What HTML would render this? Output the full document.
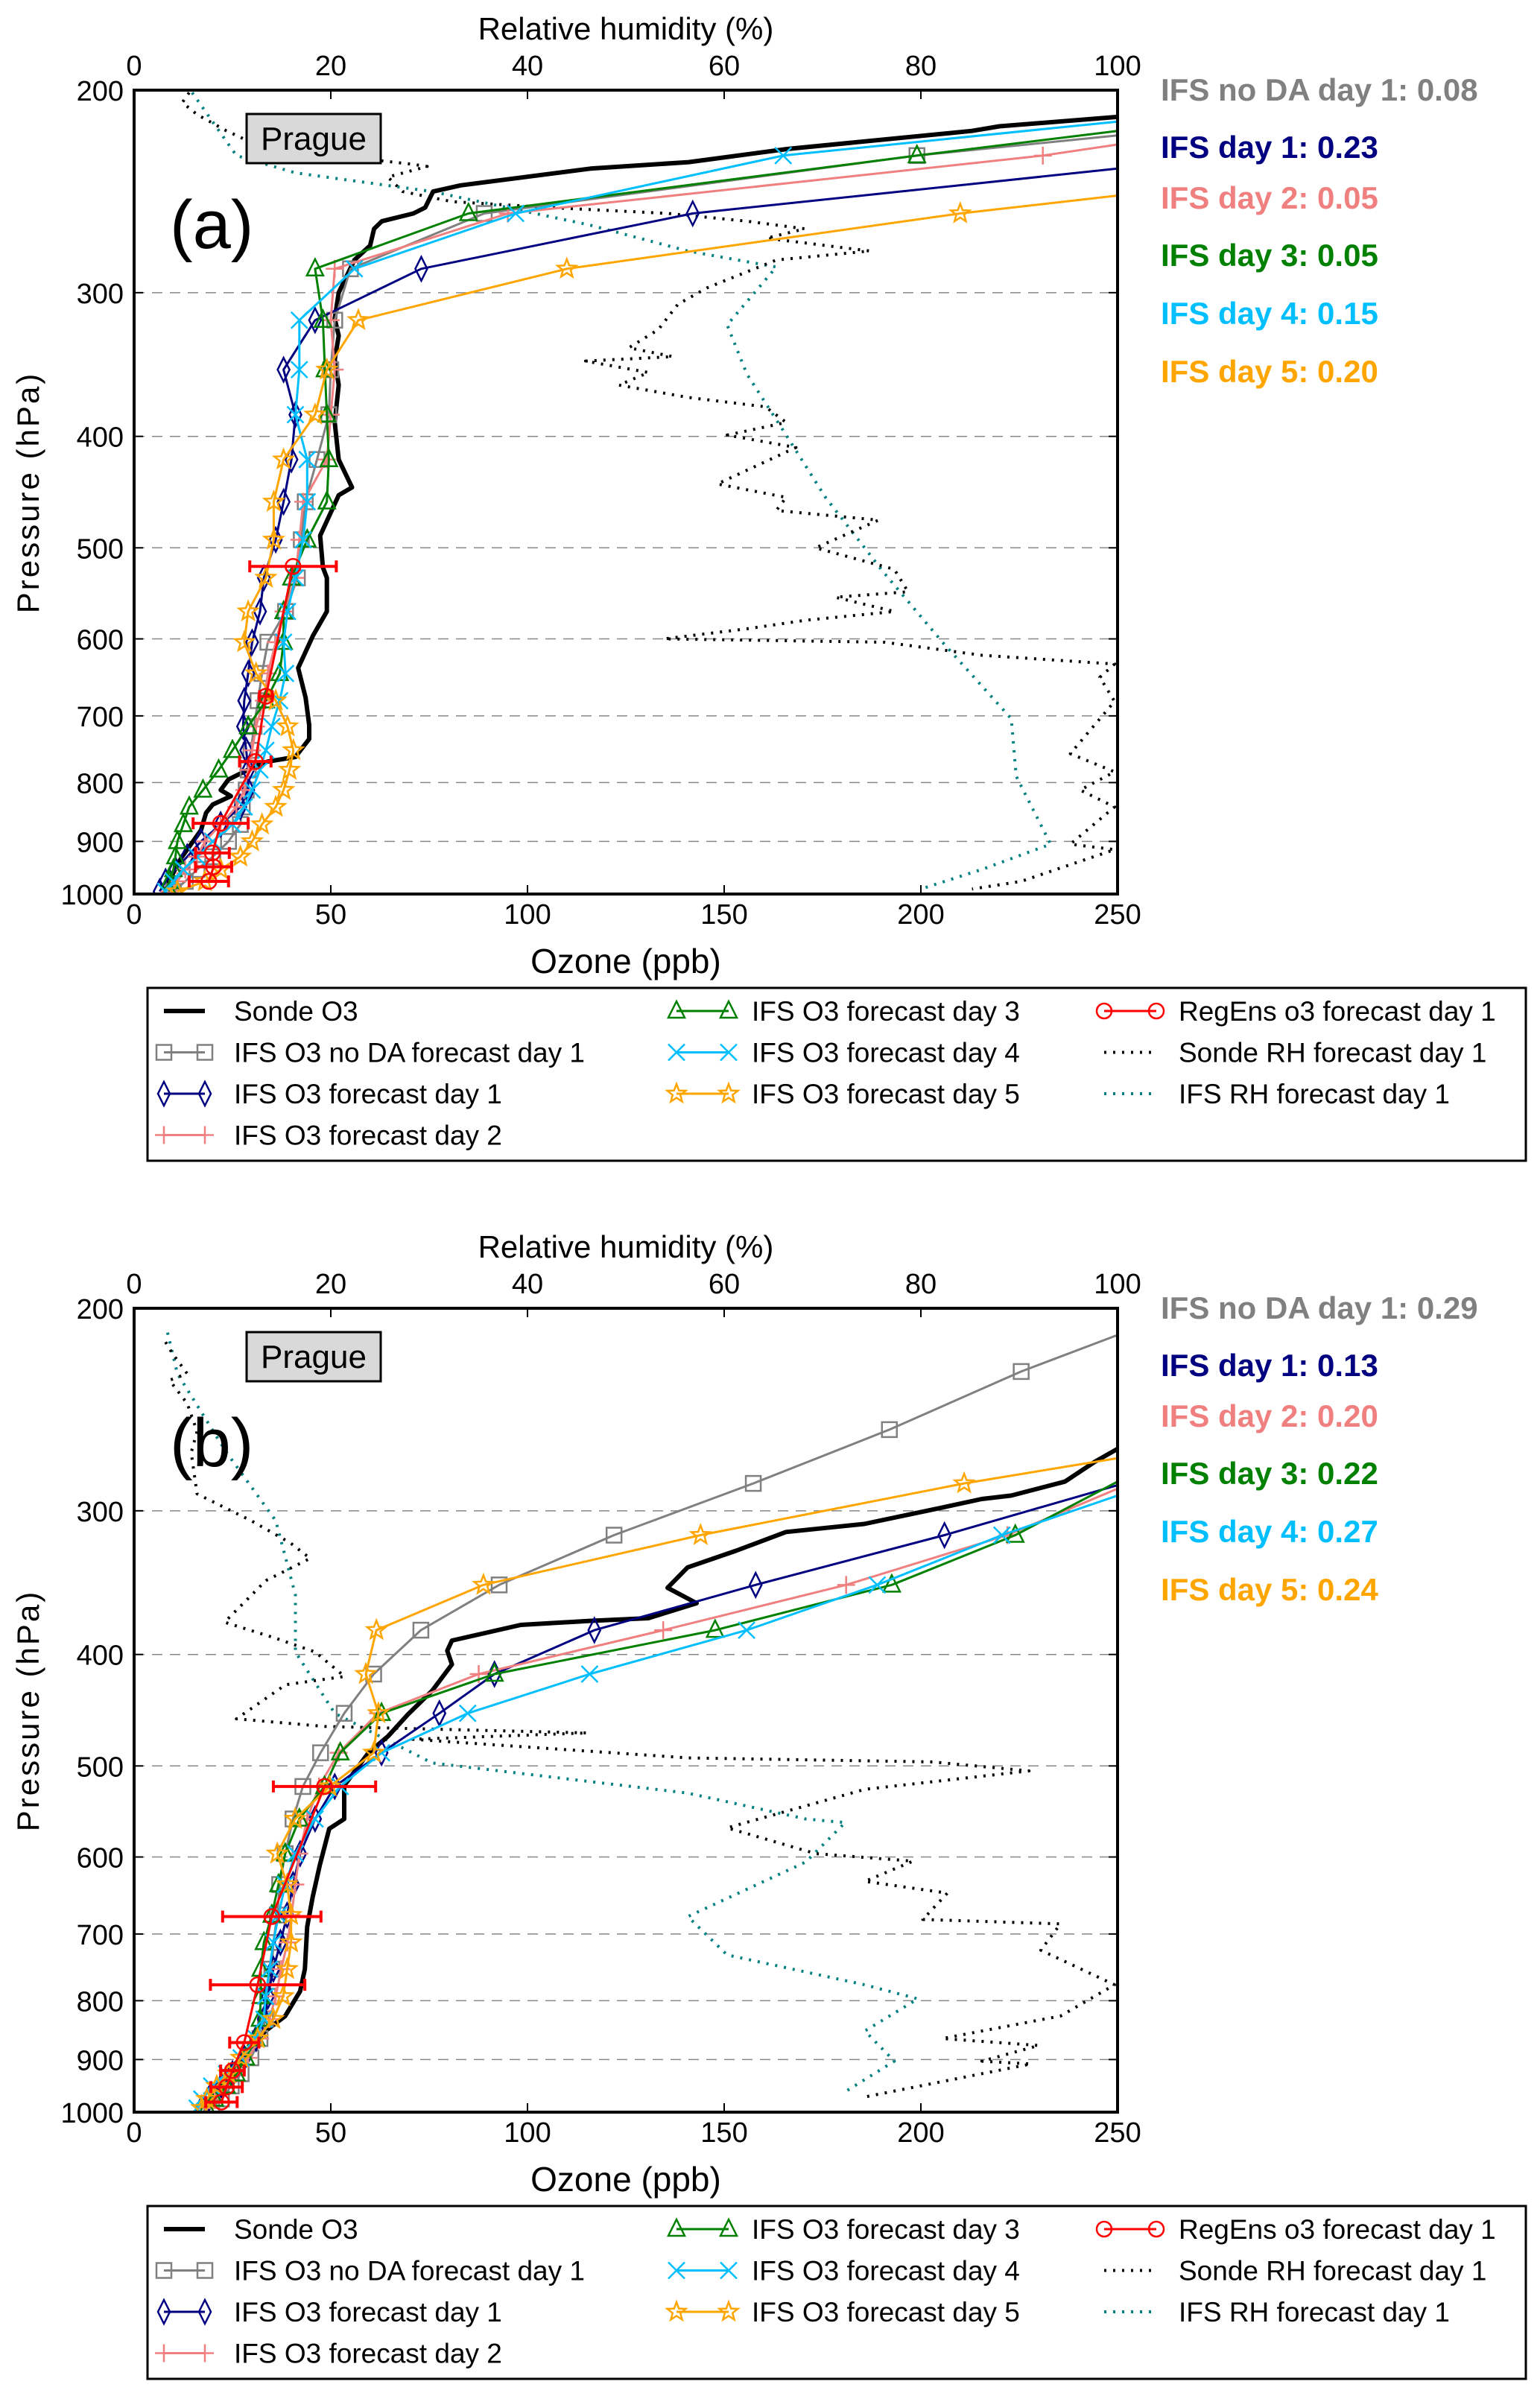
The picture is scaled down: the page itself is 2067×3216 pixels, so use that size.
<!DOCTYPE html>
<html><head><meta charset="utf-8">
<style>
html,body{margin:0;padding:0;background:#fff;}
svg{display:block;}
text{font-family:"Liberation Sans","DejaVu Sans",sans-serif;}
</style></head>
<body>
<svg id="fig" xmlns="http://www.w3.org/2000/svg" width="2067" height="3216" viewBox="0 0 2067 3216"></svg>
<script>
// ---------- Panel (a) data ----------
const A_LEVELS=[256,286,317,350,383,419,456,492,531,568,604,643,679,715,750,780,812,840,870,900,928,952,975,995];
const A_NODA_P=[219,228].concat(A_LEVELS);
const A_NODA=[250,199,89,55,51,50,49.5,46.5,43.5,42.5,41.5,38.5,34,32.5,31.5,30.5,29.7,29,28.5,27.5,27,24,20,16,13,10];
const A_DAY1_P=[234].concat(A_LEVELS);
const A_DAY1=[250,142,73,46,38,41,40,38,36,33,32,30,29,28,27.7,28.5,29,29,27,22,17,13.5,10.5,8,6.5];
const A_DAY2_P=[223,228].concat(A_LEVELS);
const A_DAY2=[250,231,95,51,50,51,50,49,43,42,41,38,36,34,33,31,30,29,28,26,22,18,16,13,11,9];
const A_DAY3_P=[217,228].concat(A_LEVELS);
const A_DAY3=[250,199,85,46,48,48.5,49,49.5,49,44,40,38,38,37,33.5,29,25,21.5,17.5,14,12.5,11,10.5,10,9,9];
const A_DAY4_P=[213,228].concat(A_LEVELS);
const A_DAY4=[250,165,97,56,42,42,41,44,44,43,41,39,38,38.5,37,35,33.5,32,30,28,25,20,16,12.5,10,8];
const A_DAY5_P=[247].concat(A_LEVELS);
const A_DAY5=[250,210,110,57,49,46,38,35.5,35.5,33.5,29,28,31,36,39,40.5,39.5,38,36,32.5,30,27,22,18,11];
const A_REG_P=[519,673,767,868,921,947,975];
const A_REG=[40.4,33.5,30.8,22,19.9,20.2,19];
const A_REG_ERR=[11,1.6,4,7,4.3,4.6,5];
const A_SONDE_P=[211,215,217,225,231,234,242,245,253,256,260,264,273,281,300,316,327,343,361,389,419,443,450,488,520,531,568,596,636,675,713,733,760,767,772,795,812,822,836,850,880,930,965,1000];
const A_SONDE=[250,220,213,166,141,116,83,76,74,71,63,61,60,56,52,51,52,51,52,51,52,55.4,52,47.3,48,49,49,45.5,41.7,43.6,44.5,44.5,41,34,31.6,24,22,24.6,20,18.3,17,12,9.5,7.6];
const A_SRH_P=[201,205,210,217,223,228,230,232,233,238,245,250,253,256,260,264,269,276,281,297,307,323,335,341,344,352,361,370,377,389,399,409,440,452,464,473,500,522,546,552,568,578,588,600,604,620,631,648,680,755,783,812,840,905,915,975,990];
const A_SRH=[5.6,4.9,6.4,9.4,12.4,19.4,24.4,28.3,29.8,25.8,27.3,32.3,42.3,54.3,62.3,68.2,64.3,74.8,65.3,58.3,55.3,53.3,50.3,54.8,45.9,52.3,49.3,56.3,64.2,66.3,60.3,67.3,59.3,66.3,65.3,75.7,69.3,77.3,78.7,71.3,77.3,68.3,62.3,53.9,76.3,86.2,99.7,98.2,99.7,95.2,99.7,96.2,99.7,95.2,99.7,90.2,85.2];
const A_IRH_P=[201,228,236,245,262,276,285,320,353,399,452,525,604,704,790,905,952,990];
const A_IRH=[5.9,10.4,16.4,30.3,46.3,56.3,65.3,60.3,62.3,66.3,70.3,76.2,82.2,89.2,89.7,93.2,86.2,80];
const A_SCORES=["0.08","0.23","0.05","0.05","0.15","0.20"];

// ---------- Panel (b) data ----------
const B_LEVELS=[227,255,284,315,348,381,416,450,487,521,556,596,634,674,712,751,793,830,863,897,926,949,974,992];
const B_NODA_P=[211].concat(B_LEVELS);
const B_NODA=[250,225.5,192,157.4,122,92.8,72.9,60.9,53.4,47.4,42.9,40.4,38.4,37,36.4,35.4,35,34,33.4,32,29.7,27.2,24.7,22.2,19.7];
const B_DAY1_P=[285].concat(B_LEVELS.slice(3));
const B_DAY1=[250,206,158,117,91.6,77.6,62.9,51,46,42.2,40.4,38.9,37.2,35.4,34,33,31,28,25,22.2,19,17.2];
const B_DAY2_P=[287].concat(B_LEVELS.slice(3));
const B_DAY2=[250,222,181,134.5,87.6,62,52,47,44,42,41,40,39,37.4,36,34.4,32,29,26,23,20.5,18.5];
const B_DAY3_P=[283].concat(B_LEVELS.slice(3));
const B_DAY3=[250,224,192.6,147.7,91.6,62.9,52.4,48.4,42,38.4,36.7,35,33,32.2,32.2,32,31,28.4,26,23.5,20.5,18.5];
const B_DAY4_P=[291].concat(B_LEVELS.slice(3));
const B_DAY4=[250,220.6,188.9,155.7,115.8,84.8,62.9,52.4,46,41,38.4,36.7,35.4,34.4,33.4,33,31,27.2,23.5,19.7,17.2,16];
const B_DAY5_P=[270].concat(B_LEVELS.slice(2));
const B_DAY5=[250,211,144,88.8,61.6,58.9,62.1,60.9,49.7,40.9,36.4,38.9,39.9,39.9,38.9,37.9,35.4,31.4,27.2,24,21,18.5,17.2];
const B_REG_P=[521,676,775,870,920,951,980];
const B_REG=[48.4,35,31.4,28,25,23.5,22.2];
const B_REG_ERR=[13,12.5,12,3.7,3,4,4];
const B_SONDE_P=[265,272,283,291,293,298,308,313,325,336,350,361,372,374,377,389,397,408,430,451,471,487,520,556,567,610,650,690,751,785,825,850,890,926,970];
const B_SONDE=[250,244.2,236.6,223,215.5,205.6,185.6,165.7,153,140.7,135.6,143,130.7,115.8,98.3,80.8,79.6,80.8,75.8,69.6,64.6,59.6,53.4,53.4,49.6,47.2,45.4,44,43.4,42.2,38.4,33.4,28,23.5,19.7];
const B_SRH_P=[214,219,228,231,242,256,267,290,306,320,330,345,375,387,398,418,425,455,462,468,474,492,496,505,524,566,596,605,630,645,680,686,723,775,825,863,875,903,908,970];
const B_SRH=[3.2,3.9,5.4,3.6,5.4,6.4,5.8,6.4,11.9,15.9,17.9,13.4,9.2,14.3,18.4,21.4,15.4,10.4,19.4,46.1,28.3,56.3,81.2,91,74.3,60.3,69.3,79.2,74.3,82.7,80.2,94.2,92.2,99.7,94.2,82.2,92,86.2,91.2,74.3];
const B_IRH_P=[210,228,267,306,355,398,450,497,528,556,560,606,676,730,775,797,850,903,960];
const B_IRH=[3.4,4.4,9.4,14.4,16.4,16.4,20.4,30.3,56.3,68.3,72.3,68.3,56.3,60.3,74.3,79.7,74.3,77.3,72.3];
const B_SCORES=["0.29","0.13","0.20","0.22","0.27","0.24"];

// tick labels
const OZ_TICKS=[0,50,100,150,200,250];
const RH_TICKS=[0,20,40,60,80,100];
const P_TICKS=[200,300,400,500,600,700,800,900,1000];

const SVGNS="http://www.w3.org/2000/svg";
const fig=document.getElementById('fig');
const PL=180, PR=1500, PH=1079;
const COL={noda:'#808080',d1:'#000080',d2:'#f08080',d3:'#008000',d4:'#00bfff',d5:'#ffa500',reg:'#ff0000',srh:'#000000',irh:'#008080'};

function mk(tag,attrs,parent){const e=document.createElementNS(SVGNS,tag);for(const k in attrs)e.setAttribute(k,attrs[k]);(parent||fig).appendChild(e);return e;}
function xO(v){return PL+(v/250)*(PR-PL);}
function xR(v){return PL+(v/100)*(PR-PL);}
function yP(top,p){return top+PH*Math.log(p/200)/Math.log(5);}

function marker(g,type,x,y,color){
  let e;
  const a={fill:'none',stroke:color,'stroke-width':2.5};
  if(type==='square'){e=mk('rect',Object.assign({x:x-10,y:y-10,width:20,height:20},a),g);}
  else if(type==='diamond'){e=mk('polygon',Object.assign({points:`${x},${y-16} ${x+8},${y} ${x},${y+16} ${x-8},${y}`},a),g);}
  else if(type==='plus'){e=mk('path',Object.assign({d:`M${x-12},${y}H${x+12}M${x},${y-12}V${y+12}`},a),g);}
  else if(type==='tri'){e=mk('polygon',Object.assign({points:`${x},${y-13} ${x+11},${y+9} ${x-11},${y+9}`},a),g);}
  else if(type==='x'){e=mk('path',Object.assign({d:`M${x-11},${y-11}L${x+11},${y+11}M${x-11},${y+11}L${x+11},${y-11}`},a),g);}
  else if(type==='star'){let pts=[];for(let i=0;i<10;i++){const r=i%2?5.5:13;const an=-Math.PI/2+i*Math.PI/5;pts.push((x+r*Math.cos(an)).toFixed(1)+','+(y+r*Math.sin(an)).toFixed(1));}e=mk('polygon',Object.assign({points:pts.join(' ')},a),g);}
  else if(type==='circle'){e=mk('circle',Object.assign({cx:x,cy:y,r:10},a),g);}
  
  
  return e;
}

function series(g,P,V,top,xf,color,w,dash,mtype,name){
  const pts=P.map((p,i)=>xf(V[i]).toFixed(1)+','+yP(top,p).toFixed(1)).join(' ');
  const a={points:pts,fill:'none',stroke:color,'stroke-width':w,'stroke-linejoin':'round'};
  if(dash)a['stroke-dasharray']=dash;
  const pl=mk('polyline',a,g);
  
  
  if(mtype){P.forEach((p,i)=>{if(V[i]<250)marker(g,mtype,xf(V[i]),yP(top,p),color);});}
}

function panel(top,label,D,scores,suffix){
  const g=mk('g',{});
  
  
  const cid='clip-'+suffix;
  const defs=mk('defs',{},g);
  mk('rect',{x:PL,y:top,width:PR-PL,height:PH},mk('clipPath',{id:cid},defs));
  P_TICKS.slice(1,-1).forEach(p=>{const l=mk('line',{x1:PL,x2:PR,y1:yP(top,p),y2:yP(top,p),stroke:'#888','stroke-width':1.5,'stroke-dasharray':'14,10'},g);
    
    });
  const dg=mk('g',{'clip-path':`url(#${cid})`},g);
  
  
  series(dg,D.irhP,D.irh,top,xR,COL.irh,4,'3,9',null,'ifs-rh-line');
  series(dg,D.srhP,D.srh,top,xR,COL.srh,4,'3,9',null,'sonde-rh-line');
  series(dg,D.sondeP,D.sonde,top,xO,'#000',6,null,null,'sonde-o3-line');
  series(dg,D.nodaP,D.noda,top,xO,COL.noda,3,null,'square','ifs-noda-line');
  series(dg,D.d1P,D.d1,top,xO,COL.d1,3,null,'diamond','ifs-day1-line');
  series(dg,D.d2P,D.d2,top,xO,COL.d2,3,null,'plus','ifs-day2-line');
  series(dg,D.d3P,D.d3,top,xO,COL.d3,3,null,'tri','ifs-day3-line');
  series(dg,D.d4P,D.d4,top,xO,COL.d4,3,null,'x','ifs-day4-line');
  series(dg,D.d5P,D.d5,top,xO,COL.d5,3,null,'star','ifs-day5-line');
  series(dg,D.regP,D.reg,top,xO,COL.reg,3,null,'circle','regens-line');
  D.regP.forEach((p,i)=>{const y=yP(top,p),x1=xO(D.reg[i]-D.regE[i]),x2=xO(D.reg[i]+D.regE[i]);
    const e=mk('path',{d:`M${x1},${y}H${x2}M${x1},${y-8}V${y+8}M${x2},${y-8}V${y+8}`,stroke:COL.reg,'stroke-width':4,fill:'none'},dg);
    
    });
  const fr=mk('rect',{x:PL,y:top,width:PR-PL,height:PH,fill:'none',stroke:'#000','stroke-width':4},g);
  
  
  OZ_TICKS.forEach(v=>{const x=xO(v);
    mk('line',{x1:x,x2:x,y1:top+PH,y2:top+PH-12,stroke:'#000','stroke-width':2},g);
    const t=mk('text',{x:x,y:top+PH+40,'font-size':38,'text-anchor':'middle'},g);t.textContent=v;
    
    });
  RH_TICKS.forEach(v=>{const x=xR(v);
    mk('line',{x1:x,x2:x,y1:top,y2:top+12,stroke:'#000','stroke-width':2},g);
    const t=mk('text',{x:x,y:top-20,'font-size':38,'text-anchor':'middle'},g);t.textContent=v;
    
    });
  P_TICKS.forEach(p=>{const y=yP(top,p);
    mk('line',{x1:PL,x2:PL+12,y1:y,y2:y,stroke:'#000','stroke-width':2},g);
    mk('line',{x1:PR,x2:PR-12,y1:y,y2:y,stroke:'#000','stroke-width':2},g);
    const t=mk('text',{x:166,y:y+14,'font-size':38,'text-anchor':'end'},g);t.textContent=p;
    
    });
  let t=mk('text',{x:840,y:top-68,'font-size':42,'text-anchor':'middle'},g);t.textContent='Relative humidity (%)';
  
  t=mk('text',{x:840,y:top+PH+106,'font-size':46,'text-anchor':'middle'},g);t.textContent='Ozone (ppb)';
  
  t=mk('text',{x:0,y:0,'font-size':42,'text-anchor':'middle','letter-spacing':3,transform:`translate(52,${top+540}) rotate(-90)`},g);t.textContent='Pressure (hPa)';
  
  const bx=mk('rect',{x:331,y:top+32,width:180,height:66,fill:'#d9d9d9',stroke:'#000','stroke-width':3},g);
  
  t=mk('text',{x:421,y:top+80,'font-size':44,'text-anchor':'middle'},g);t.textContent='Prague';
  
  t=mk('text',{x:228,y:top+212,'font-size':92},g);t.textContent=label;
  
  const names=['IFS no DA day 1: ','IFS day 1: ','IFS day 2: ','IFS day 3: ','IFS day 4: ','IFS day 5: '];
  const cols=[COL.noda,COL.d1,COL.d2,COL.d3,COL.d4,COL.d5];
  const ys=[14,91,159,236,314,392];
  names.forEach((n,i)=>{const s=mk('text',{x:1558,y:top+ys[i],'font-size':42,'font-weight':'bold',fill:cols[i]},g);
    s.textContent=n+scores[i];
    
    });
  const ltop=top+1205;
  const lb=mk('rect',{x:198,y:ltop,width:1850,height:232,fill:'#fff',stroke:'#000','stroke-width':3},g);
  
  const entries=[
    ['Sonde O3',0,0,'#000',6,null,null],
    ['IFS O3 no DA forecast day 1',0,1,COL.noda,3,null,'square'],
    ['IFS O3 forecast day 1',0,2,COL.d1,3,null,'diamond'],
    ['IFS O3 forecast day 2',0,3,COL.d2,3,null,'plus'],
    ['IFS O3 forecast day 3',1,0,COL.d3,3,null,'tri'],
    ['IFS O3 forecast day 4',1,1,COL.d4,3,null,'x'],
    ['IFS O3 forecast day 5',1,2,COL.d5,3,null,'star'],
    ['RegEns o3 forecast day 1',2,0,COL.reg,3,null,'circle'],
    ['Sonde RH forecast day 1',2,1,'#000',4,'3,9',null],
    ['IFS RH forecast day 1',2,2,COL.irh,4,'3,9',null]];
  const hx=[[220,275],[908,978],[1482,1552]], tx=[314,1009,1582];
  entries.forEach(e=>{const y=ltop+31+e[2]*55.5;const [a,b]=hx[e[1]];
    const lg=mk('g',{},g);
    
    
    const la={x1:a,x2:b,y1:y,y2:y,stroke:e[3],'stroke-width':e[4]};if(e[5])la['stroke-dasharray']=e[5];
    mk('line',la,lg);
    if(e[6]){marker(lg,e[6],a,y,e[3]);marker(lg,e[6],b,y,e[3]);}
    const tt=mk('text',{x:tx[e[1]],y:y+13,'font-size':37},lg);tt.textContent=e[0];});
}

panel(121,'(a)',{nodaP:A_NODA_P,noda:A_NODA,d1P:A_DAY1_P,d1:A_DAY1,d2P:A_DAY2_P,d2:A_DAY2,d3P:A_DAY3_P,d3:A_DAY3,d4P:A_DAY4_P,d4:A_DAY4,d5P:A_DAY5_P,d5:A_DAY5,regP:A_REG_P,reg:A_REG,regE:A_REG_ERR,sondeP:A_SONDE_P,sonde:A_SONDE,srhP:A_SRH_P,srh:A_SRH,irhP:A_IRH_P,irh:A_IRH},A_SCORES,'a');
panel(1756,'(b)',{nodaP:B_NODA_P,noda:B_NODA,d1P:B_DAY1_P,d1:B_DAY1,d2P:B_DAY2_P,d2:B_DAY2,d3P:B_DAY3_P,d3:B_DAY3,d4P:B_DAY4_P,d4:B_DAY4,d5P:B_DAY5_P,d5:B_DAY5,regP:B_REG_P,reg:B_REG,regE:B_REG_ERR,sondeP:B_SONDE_P,sonde:B_SONDE,srhP:B_SRH_P,srh:B_SRH,irhP:B_IRH_P,irh:B_IRH},B_SCORES,'b');
</script>
</body></html>
